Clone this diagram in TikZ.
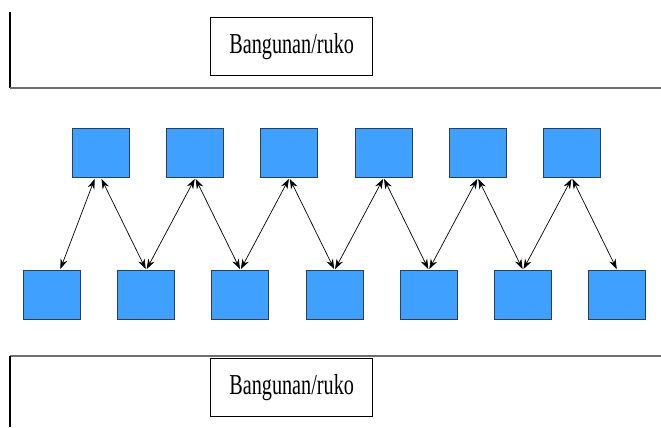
\documentclass[tikz,border=0pt]{standalone}
\usepackage{fontspec}
\setmainfont{Liberation Serif}
\usetikzlibrary{arrows.meta}
\definecolor{cellfill}{RGB}{64,160,255}
\definecolor{cellborder}{RGB}{45,62,90}
\definecolor{rulegray}{RGB}{110,110,110}
\begin{document}
\begin{tikzpicture}[x=1bp,y=-1bp,
  cell/.style={draw=cellborder, fill=cellfill, line width=1bp,
    minimum width=57bp, minimum height=49bp, inner sep=0pt, anchor=north west},
  labelbox/.style={draw, line width=1.3bp, minimum width=162bp, minimum height=58bp,
    inner sep=0pt, anchor=north west, font=\fontsize{29}{33}\selectfont},
  link/.style={line width=0.7bp, shorten <=1bp, shorten >=1bp,
    {Stealth[length=10bp,width=7bp]}-{Stealth[length=10bp,width=7bp]}},
  edgerule/.style={draw=rulegray, line width=1.6bp},
  siderule/.style={draw=black, line width=1.2bp}]
\useasboundingbox (0,0) rectangle (661,427);

% upper frame and label
\draw[siderule] (10,12) -- (10,88);
\draw[edgerule] (9.5,88) -- (661,88);
\node[labelbox] (top) at (210,17) {\scalebox{0.7}[1]{Bangunan/ruko}};

% lower frame and label
\draw[edgerule] (9.5,356) -- (661,356);
\draw[siderule] (10,356) -- (10,427);
\node[labelbox] (bottom) at (210,358) {\scalebox{0.7}[1]{Bangunan/ruko}};

% two rows of cells
\foreach \i in {1,...,6}
  \node[cell] (t\i) at ({72+94.2*(\i-1)},128) {};
\foreach \i in {1,...,7}
  \node[cell] (b\i) at ({23+94.2*(\i-1)},270) {};

% zig-zag links between the rows
\draw[link] ([xshift=-6bp]t1.south) -- ([xshift=8bp]b1.north);
\draw[link] (t1.south) -- (b2.north);
\foreach \i in {2,...,6}{
  \pgfmathtruncatemacro{\j}{\i+1}
  \draw[link] (t\i.south) -- (b\i.north);
  \draw[link] (t\i.south) -- (b\j.north);
}
\end{tikzpicture}
\end{document}
